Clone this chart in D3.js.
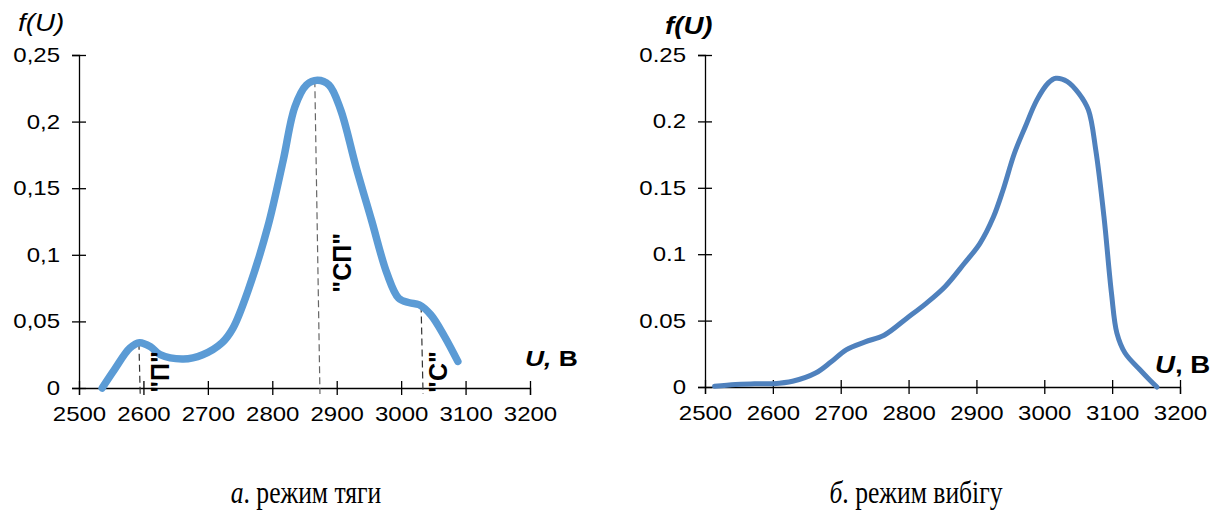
<!DOCTYPE html>
<html>
<head>
<meta charset="utf-8">
<script src="https://cdn.jsdelivr.net/npm/d3@7"></script>
<style>
  body { margin: 0; background: #fff; }
  text { font-family: "Liberation Sans", Arial, sans-serif; fill: #000; }
  .tick text { font-size: 20px; }
  .caption { font-family: "Liberation Serif", "Times New Roman", serif; font-size: 32px; }
</style>
</head>
<body>
<svg width="1219" height="514"></svg>
<script>
// data
const xTicks = [2500, 2600, 2700, 2800, 2900, 3000, 3100, 3200];
const yTicks = [0, 0.05, 0.1, 0.15, 0.2, 0.25];

// a. traction mode
const tractionU = [2536, 2555, 2579, 2594, 2611, 2626, 2662, 2692, 2722, 2739, 2763, 2793, 2817, 2835, 2853, 2870, 2888, 2906, 2930, 2954, 2978, 2996, 3013, 3028, 3046, 3067, 3088];
const tractionF = [0, 0.0138, 0.030, 0.034, 0.031, 0.025, 0.0218, 0.025, 0.034, 0.045, 0.074, 0.121, 0.171, 0.211, 0.2275, 0.231, 0.2275, 0.209, 0.166, 0.126, 0.086, 0.0675, 0.064, 0.0625, 0.055, 0.039, 0.020];

// b. coasting mode
const coastU = [2514, 2545, 2573, 2601, 2629, 2663, 2686, 2708, 2736, 2764, 2798, 2826, 2854, 2882, 2905, 2925, 2939, 2956, 2972, 2989, 3006, 3017, 3034, 3051, 3065, 3076, 3088, 3099, 3107, 3119, 3141, 3155, 3166];
const coastF = [0.0005, 0.0018, 0.0025, 0.0025, 0.0043, 0.0105, 0.019, 0.028, 0.034, 0.039, 0.052, 0.063, 0.0757, 0.093, 0.108, 0.128, 0.148, 0.176, 0.196, 0.216, 0.229, 0.2325, 0.230, 0.221, 0.2086, 0.178, 0.128, 0.0707, 0.0406, 0.0256, 0.013, 0.0055, 0];

// dashed markers on chart a
const markerNames = ['"П"', '"СП"', '"С"'];
const markerTopU = [2593, 2866, 3031];
const markerBottomU = [2595, 2874, 3034];
const markerTopF = [0.034, 0.231, 0.062];
const markerLabelF = [0.012, 0.094, 0.012];

const svg = d3.select("svg");
const sx = 1.2; // tick labels in the picture are stretched sideways

function panel(opts) {
  const x = d3.scaleLinear().domain([2500, 3200]).range(opts.xRange);
  const y = d3.scaleLinear().domain([0, 0.25]).range([opts.y0, 55]);
  const g = svg.append("g");

  const yAxis = g.append("g")
    .attr("transform", `translate(${opts.xRange[0]},0)`)
    .call(d3.axisLeft(y).tickValues(yTicks).tickSizeOuter(0).tickSize(7)
      .tickFormat(opts.yFormat));
  yAxis.selectAll(".tick line").attr("x1", 7);
  yAxis.selectAll(".tick text").attr("x", -19 / sx).attr("transform", `scale(${sx},1)`);

  const xAxis = g.append("g")
    .attr("transform", `translate(0,${opts.y0})`)
    .call(d3.axisBottom(x).tickValues(xTicks).tickSizeOuter(0).tickSize(7).tickPadding(12)
      .tickFormat(d3.format("d")));
  xAxis.selectAll(".tick line").attr("y1", -7);
  xAxis.selectAll(".tick text").attr("transform", `scale(${sx},1)`);

  g.selectAll(".domain, .tick line").attr("stroke", "#000").attr("stroke-width", 1.3);

  return { g, x, y };
}

const yFmtComma = (d) => String(d).replace(".", ",");

// ---- a. режим тяги
const a = panel({ xRange: [79, 530], y0: 388, yFormat: yFmtComma });

a.g.selectAll(".marker")
  .data(markerNames)
  .enter()
  .append("line")
  .attr("x1", (d, i) => a.x(markerTopU[i]))
  .attr("y1", (d, i) => a.y(markerTopF[i]))
  .attr("x2", (d, i) => a.x(markerBottomU[i]))
  .attr("y2", a.y(0) + 6)
  .attr("stroke", (d, i) => (i === 1 ? "#666" : "#333"))
  .attr("stroke-width", 1.2)
  .attr("stroke-dasharray", "7,4");

a.g.append("path")
  .datum(d3.zip(tractionU, tractionF))
  .attr("fill", "none")
  .attr("stroke", "#5b9bd5")
  .attr("stroke-width", 7.5)
  .attr("stroke-linecap", "round")
  .attr("stroke-linejoin", "round")
  .attr("d", d3.line().x((d) => a.x(d[0])).y((d) => a.y(d[1])).curve(d3.curveCatmullRom));

const labelOffset = [20, 22, 15];
a.g.selectAll(".mlabel")
  .data(markerNames)
  .enter()
  .append("text")
  .attr("transform", (d, i) => {
    const cx = a.x(markerBottomU[i]) + labelOffset[i];
    return `translate(${cx},${a.y(markerLabelF[i])}) rotate(-90)`;
  })
  .attr("text-anchor", "middle")
  .attr("dominant-baseline", "central")
  .attr("font-size", 25)
  .attr("font-weight", "bold")
  .text((d) => d);

a.g.append("text")
  .attr("transform", "translate(18,31) scale(1.16,1)")
  .attr("font-size", 24).attr("font-style", "italic")
  .text("f(U)");

const ua = a.g.append("text").attr("transform", "translate(525,366) scale(1.2,1)")
  .attr("font-size", 22).attr("font-weight", "bold");
ua.append("tspan").attr("font-style", "italic").text("U,");
ua.append("tspan").text(" В");

// ---- б. режим вибігу
const b = panel({ xRange: [705, 1180], y0: 387, yFormat: (d) => String(d) });

b.g.append("path")
  .datum(d3.zip(coastU, coastF))
  .attr("fill", "none")
  .attr("stroke", "#4f81bd")
  .attr("stroke-width", 5)
  .attr("stroke-linecap", "round")
  .attr("stroke-linejoin", "round")
  .attr("d", d3.line().x((d) => b.x(d[0])).y((d) => b.y(d[1])).curve(d3.curveCatmullRom));

b.g.append("text")
  .attr("transform", "translate(665,34) scale(1.15,1)")
  .attr("font-size", 24).attr("font-style", "italic").attr("font-weight", "bold")
  .text("f(U)");

const ub = b.g.append("text").attr("transform", "translate(1155,373) scale(1.2,1)")
  .attr("font-size", 23).attr("font-weight", "bold");
ub.append("tspan").attr("font-style", "italic").text("U");
ub.append("tspan").text(", В");

// captions
const capA = svg.append("text").attr("class", "caption")
  .attr("transform", "translate(306,503) scale(0.8,1)").attr("text-anchor", "middle");
capA.append("tspan").attr("font-style", "italic").text("а");
capA.append("tspan").text(". режим тяги");

const capB = svg.append("text").attr("class", "caption")
  .attr("transform", "translate(916,503) scale(0.8,1)").attr("text-anchor", "middle");
capB.append("tspan").attr("font-style", "italic").text("б");
capB.append("tspan").text(". режим вибігу");
</script>
</body>
</html>
